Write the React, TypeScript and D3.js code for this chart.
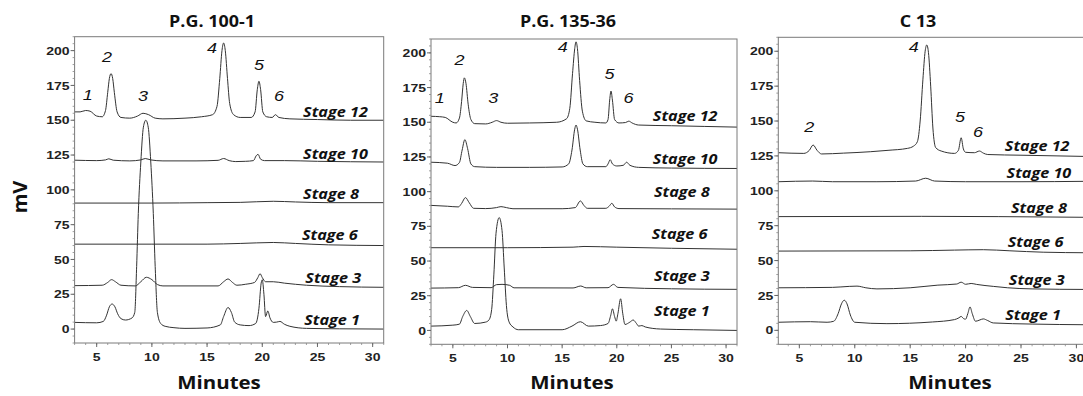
import React from "react";
import * as d3 from "d3";

type Pt = [number, number];

const stageNames = ["Stage 12", "Stage 10", "Stage 8", "Stage 6", "Stage 3", "Stage 1"];
const panelTitles = ["P.G. 100-1", "P.G. 135-36", "C 13"];
const xTickValues = [5, 10, 15, 20, 25, 30];
const yTickValues = [0, 25, 50, 75, 100, 125, 150, 175, 200];

// ---------- Panel 1 : P.G. 100-1 ----------
const pg100_s12: Pt[] = [[3,156],[3.5,156],[4,157],[4.4,156.5],[5,153],[5.5,152.5],[5.8,157],[6.0,170],[6.15,180],[6.3,183.5],[6.45,180],[6.6,170],[6.85,156],[7.2,152],[8,151.5],[8.7,153],[9.2,155],[9.7,154],[10.3,151.5],[11,151],[13,151.5],[14.5,152.5],[15.5,154],[15.9,160],[16.15,180],[16.35,200],[16.5,205.5],[16.65,200],[16.85,180],[17.05,162],[17.4,154],[18,152],[19,152],[19.35,156],[19.55,172],[19.7,178],[19.85,172],[20.05,156],[20.4,152.5],[20.9,152],[21.2,154],[21.5,152],[22.5,151],[25,150.5],[28,150],[31,150]];
const pg100_s10: Pt[] = [[3,121.3],[5,121],[5.8,121.5],[6.1,122.3],[6.5,121.3],[8,120.8],[9,121.5],[9.4,122.5],[9.9,121.5],[11,120.8],[14,120.8],[16,121.2],[16.5,122.5],[17,121],[17.6,120.3],[18.5,120.5],[19.2,121],[19.45,124.5],[19.62,125.5],[19.85,122],[20.2,121],[22,121],[25,120.5],[31,120]];
const pg100_s8: Pt[] = [[3,90.5],[10,90.5],[15,90.8],[18,91],[21,91.8],[23,91.3],[26,90.8],[31,90.8]];
const pg100_s6: Pt[] = [[3,61],[10,61],[15,61],[18,61.5],[21,62.2],[23,61.5],[26,60.5],[31,60]];
const pg100_s3: Pt[] = [[3,31.2],[5.5,31.5],[6,33.5],[6.35,35.5],[6.7,34],[7.2,31.5],[8.5,31],[9,34],[9.5,37.2],[10,35.5],[10.5,32],[11,31],[16,31],[16.5,34],[16.9,36],[17.3,33.5],[17.7,31.5],[18.5,32.2],[19.3,33.5],[19.6,37],[19.8,39.8],[20,37],[20.3,34],[21,34],[22,33],[24,31.5],[27,30.5],[31,30]];
const pg100_s1: Pt[] = [[3,4.8],[5,4.5],[5.6,5.5],[5.9,10],[6.15,16],[6.4,18],[6.65,16],[6.9,11],[7.2,7.5],[7.6,6.5],[8.2,8],[8.45,12],[8.62,45],[8.77,83],[9.0,120],[9.23,145],[9.45,150],[9.67,145],[9.9,120],[10.13,83],[10.3,45],[10.5,12],[10.8,4],[11.2,2],[12,1],[13,0.5],[15,0.8],[16.2,3],[16.5,9],[16.9,15.5],[17.2,12],[17.5,5],[18,3],[18.8,2.5],[19.4,4],[19.7,15],[19.9,33],[20,35.4],[20.15,25],[20.3,9],[20.5,13],[20.7,8],[21,4.8],[21.3,5],[21.6,5.5],[22,3.5],[22.5,2],[24,0.5],[27,0.2],[31,0]];

// ---------- Panel 2 : P.G. 135-36 ----------
const pg135_s12: Pt[] = [[3,154.3],[3.8,154],[4.3,153.5],[5,150],[5.3,149.5],[5.6,153],[5.8,165],[5.95,178],[6.05,182],[6.2,178],[6.4,163],[6.65,152],[7,149],[8,148.8],[8.6,150],[9.0,151.2],[9.4,150],[10,149.3],[12,149.5],[14.5,150],[15.4,152.5],[15.7,160],[15.95,185],[16.15,203],[16.27,208],[16.4,203],[16.6,180],[16.85,158],[17.2,151],[18,150],[19,149.5],[19.2,152],[19.35,166],[19.47,172.5],[19.6,166],[19.8,152],[20.2,149.5],[20.8,149.8],[21.1,150.8],[21.4,149.5],[22,148],[25,147.5],[28,147],[31,146.5]];
const pg135_s10: Pt[] = [[3,121.2],[4.5,120.5],[5.2,118.8],[5.6,121],[5.85,130],[6.1,137.5],[6.35,131],[6.65,120],[7,118],[9,117.5],[12,117.5],[15,117.8],[15.6,120],[15.9,130],[16.15,145],[16.27,148],[16.4,145],[16.65,130],[16.9,120],[17.3,118],[19,118],[19.2,120],[19.4,123],[19.6,120],[20,118.5],[20.6,119],[20.9,121.2],[21.2,119],[22,117.5],[25,117],[31,116.7]];
const pg135_s8: Pt[] = [[3,90.1],[4.5,89.5],[5.5,89],[5.8,91.5],[6.15,95.7],[6.5,92],[6.9,88],[8,87.8],[9,88.5],[9.4,89.2],[9.9,88.5],[10.5,87.7],[15,87.7],[16.2,88.5],[16.67,93.3],[17.0,90],[17.3,88],[19,88],[19.3,89.5],[19.55,91.6],[19.8,89],[20.2,87.8],[25,87.6],[31,87.4]];
const pg135_s6: Pt[] = [[3,59.6],[10,59.6],[16,60],[17,60.5],[20,60],[25,59.2],[31,58.5]];
const pg135_s3: Pt[] = [[3,30.5],[5.5,30.8],[6.15,32.5],[6.8,31],[8.5,30.8],[9.0,33],[9.5,33.2],[10.2,32.5],[10.6,30.7],[16,30.6],[16.7,32],[17.2,30.7],[19.2,30.8],[19.7,33.2],[20.1,31],[25,30],[31,29.6]];
const pg135_s1: Pt[] = [[3,3.1],[5,3.8],[5.6,4.5],[5.9,10],[6.27,14.4],[6.6,10],[7,5],[8,6],[8.3,7.5],[8.55,15],[8.75,40],[8.95,70],[9.24,81.3],[9.5,72],[9.7,45],[9.9,18],[10.15,6],[10.5,2.5],[11,0.5],[15,0.5],[15.9,3.1],[16.67,6.25],[17.4,3.1],[18.5,3.5],[19.2,5],[19.45,11],[19.6,15.6],[19.8,10],[19.95,6.7],[20.1,12],[20.35,22.8],[20.55,12],[20.75,4.3],[21.2,6],[21.5,7.5],[21.8,5],[22,3.1],[22.3,3.5],[22.6,2.5],[24,1],[27,0.5],[31,0]];

// ---------- Panel 3 : C 13 ----------
const c13_s12: Pt[] = [[3.1,127.3],[5.4,126.8],[5.9,129],[6.24,132.8],[6.6,129],[7,126.4],[9,127],[11.4,128],[13,129],[14.75,130.4],[15.3,132],[15.65,135.2],[15.9,150],[16.15,180],[16.35,200],[16.5,204.5],[16.65,199],[16.85,175],[17.05,145],[17.3,131],[17.8,128.5],[19,126.8],[19.35,129],[19.6,138],[19.8,130],[20,127.6],[20.8,127.3],[21.25,128.5],[21.6,127],[22,126],[25,125.5],[31,124.6]];
const c13_s10: Pt[] = [[3.1,106.5],[6.2,107],[8,106.5],[12,106.5],[15.5,107],[16.4,109],[17.2,107],[20,106.5],[25,106.5],[31,106.8]];
const c13_s8: Pt[] = [[3.1,81.5],[16,81.7],[23,81.5],[31,81]];
const c13_s6: Pt[] = [[3.1,56.8],[15,57],[19,57.5],[21.6,57.8],[24,57],[27,56],[31,55.6]];
const c13_s3: Pt[] = [[3.1,30.5],[8,30.8],[9.5,31.5],[10.2,31.7],[11,30.5],[12,29.7],[15,30.5],[17.5,32.4],[19.2,33.2],[19.6,34.5],[20,33],[20.5,33.6],[21,32.9],[22.5,31.5],[23.8,30.5],[26,29.7],[31,29.3]];
const c13_s1: Pt[] = [[3.1,5.8],[6,6.2],[7.5,5.8],[8.1,6.5],[8.5,12],[8.8,19],[9.05,21.6],[9.3,19],[9.6,11],[10,5.8],[12.9,4.8],[17,6],[19,7.7],[19.4,9],[19.6,10],[19.8,8.5],[20,8],[20.2,12],[20.4,16.8],[20.6,12],[20.9,6.5],[21.3,7.5],[21.6,8.2],[22,7],[22.5,5.3],[26,4.5],[31,4]];

// peak number annotations [label, minutes, mV]
const pg100_peaks: [string, number, number][] = [["1",4.2,168.6],["2",5.93,195.9],["3",9.19,167.8],["4",15.44,202.4],["5",19.7,190.1],["6",21.51,167.8]];
const pg135_peaks: [string, number, number][] = [["1",3.79,167.5],["2",5.61,194.9],["3",8.7,167.5],["4",15.06,204.3],["5",19.34,184.8],["6",21.06,167.5]];
const c13_peaks: [string, number, number][] = [["2",5.9,146.3],["4",15.33,203.1],["5",19.49,153.5],["6",21.12,142.7]];

// stage label anchors [minutes, mV] (same order as stageNames)
const pg100_stageAt: Pt[] = [[23.7,152.5],[23.7,121.8],[23.7,93.7],[23.6,64.2],[23.9,33],[23.8,3.1]];
const pg135_stageAt: Pt[] = [[23.3,151],[23.3,120],[23.4,96],[23.2,65.7],[23.4,35.6],[23.4,10.3]];
const c13_stageAt: Pt[] = [[23.54,128.2],[23.7,109.5],[24.1,84.3],[23.8,59.9],[23.9,32.8],[23.57,7.2]];

const W = 1083;
const H = 396;
const SX = 1.18;

const panels = [
  { title: panelTitles[0], traces: [pg100_s12, pg100_s10, pg100_s8, pg100_s6, pg100_s3, pg100_s1], peaks: pg100_peaks, stageAt: pg100_stageAt,
    xDom: [3, 31], xR: [74.6, 383.7], yR: [343, 36.7], titleX: 212, minutesX: 219 },
  { title: panelTitles[1], traces: [pg135_s12, pg135_s10, pg135_s8, pg135_s6, pg135_s3, pg135_s1], peaks: pg135_peaks, stageAt: pg135_stageAt,
    xDom: [3, 31], xR: [431, 737], yR: [344.3, 39], titleX: 568, minutesX: 572 },
  { title: panelTitles[2], traces: [c13_s12, c13_s10, c13_s8, c13_s6, c13_s3, c13_s1], peaks: c13_peaks, stageAt: c13_stageAt,
    xDom: [3.1, 31], xR: [778.3, 1087.5], yR: [344.3, 37.3], titleX: 918, minutesX: 950 },
];

function ST(props: { x: number; y: number; sx?: number; rotate?: number; anchor?: string; family: string; size: number; weight?: string | number; italic?: boolean; children: React.ReactNode; dy?: string; fill?: string }) {
  const { x, y, sx = SX, rotate = 0, anchor = "start", family, size, weight = "normal", italic = false, children, dy, fill = "#111" } = props;
  return (
    <text
      transform={`translate(${x},${y}) rotate(${rotate}) scale(${sx},1)`}
      textAnchor={anchor}
      fontFamily={family}
      fontSize={size}
      fontWeight={weight}
      fontStyle={italic ? "italic" : "normal"}
      dy={dy}
      fill={fill}
    >
      {children}
    </text>
  );
}

function Panel({ p, idx }: { p: typeof panels[number]; idx: number }) {
  const x = d3.scaleLinear().domain(p.xDom).range(p.xR);
  const y = d3.scaleLinear().domain([-10, 210]).range(p.yR);
  const line = d3.line<Pt>().x((d) => x(d[0])).y((d) => y(d[1])).curve(d3.curveMonotoneX);
  const [x0, x1] = p.xR;
  const [yb, yt] = p.yR;
  const clipId = `clip${idx}`;
  const xMinor = d3.range(Math.ceil(p.xDom[0]), Math.floor(p.xDom[1]) + 1, 1);
  const yMinor = d3.range(-10, 211, 5);
  return (
    <g>
      <defs>
        <clipPath id={clipId}>
          <rect x={x0} y={yt} width={x1 - x0} height={yb - yt} />
        </clipPath>
      </defs>
      <ST x={p.titleX} y={27} anchor="middle" family="'Open Sans', sans-serif" size={16} weight="bold" sx={1.12}>{p.title}</ST>
      <g clipPath={`url(#${clipId})`}>
        {p.traces.map((t, i) => (
          <path key={i} d={line(t) || ""} fill="none" stroke="#333" strokeWidth={1} />
        ))}
      </g>
      <rect x={x0} y={yt} width={x1 - x0} height={yb - yt} fill="none" stroke="#7a7a7a" strokeWidth={1} />
      {yMinor.map((v) => (
        <line key={"ym" + v} x1={x0 - 2} x2={x0} y1={y(v)} y2={y(v)} stroke="#888" strokeWidth={0.8} />
      ))}
      {yTickValues.map((v) => (
        <g key={"y" + v}>
          <line x1={x0 - 4} x2={x0} y1={y(v)} y2={y(v)} stroke="#666" strokeWidth={1} />
          <ST x={x0 - 5} y={y(v)} dy="0.36em" anchor="end" family="'Liberation Sans', Arial, sans-serif" size={11.5} weight="bold" sx={1.22} fill="#222">{v}</ST>
        </g>
      ))}
      {xMinor.map((v) => (
        <line key={"xm" + v} x1={x(v)} x2={x(v)} y1={yb} y2={yb + 2} stroke="#888" strokeWidth={0.8} />
      ))}
      {xTickValues.map((v) => (
        <g key={"x" + v}>
          <line x1={x(v)} x2={x(v)} y1={yb} y2={yb + 4} stroke="#666" strokeWidth={1} />
          <ST x={x(v)} y={yb + 18} anchor="middle" family="'Liberation Sans', Arial, sans-serif" size={11.5} weight="bold" sx={1.22} fill="#222">{v}</ST>
        </g>
      ))}
      {p.peaks.map(([lab, t, v]) => (
        <ST key={"p" + lab} x={x(t)} y={y(v)} dy="0.36em" anchor="middle" family="'Liberation Sans', Arial, sans-serif" size={15} italic sx={1.2}>{lab}</ST>
      ))}
      {p.stageAt.map(([t, v], i) => (
        <ST key={"s" + i} x={x(t)} y={y(v)} family="'Open Sans', sans-serif" size={15} weight="bold" italic sx={1.08}>{stageNames[i]}</ST>
      ))}
      <ST x={p.minutesX} y={389} anchor="middle" family="'Open Sans', sans-serif" size={17.5} weight="bold" sx={1.17}>Minutes</ST>
    </g>
  );
}

export default function App() {
  return (
    <svg width={W} height={H} style={{ display: "block", position: "absolute", left: 0, top: 0, background: "#fff" }}>
      <rect x={0} y={0} width={W} height={H} fill="#fff" />
      {panels.map((p, i) => (
        <Panel key={i} p={p} idx={i} />
      ))}
      <ST x={27} y={197} rotate={-90} anchor="middle" family="'Open Sans', sans-serif" size={20} weight="bold" sx={1}>mV</ST>
    </svg>
  );
}
